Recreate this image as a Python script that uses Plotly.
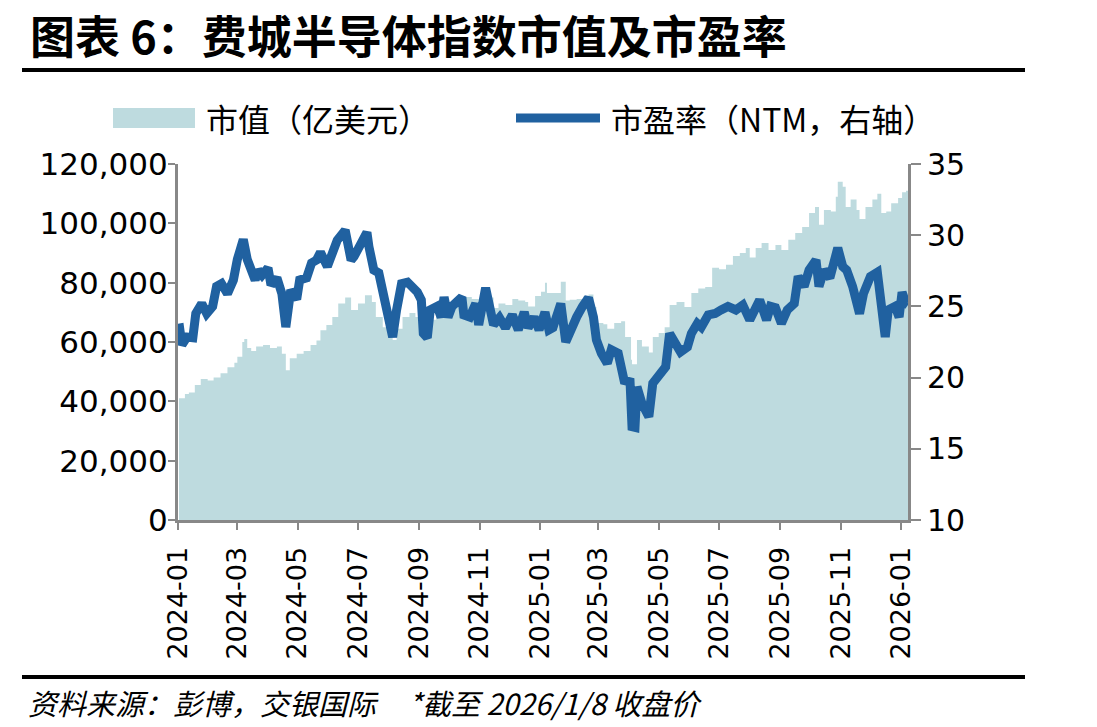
import plotly.graph_objects as go

# ---------------- data ----------------
mc_dates = [
    "2024-01-02", "2024-01-08", "2024-01-12", "2024-01-18", "2024-01-24", "2024-01-31",
    "2024-02-06", "2024-02-13", "2024-02-20", "2024-02-27", "2024-03-01", "2024-03-06",
    "2024-03-08", "2024-03-11", "2024-03-15", "2024-03-20", "2024-03-27", "2024-04-03",
    "2024-04-10", "2024-04-15", "2024-04-19", "2024-04-23", "2024-04-30", "2024-05-07",
    "2024-05-14", "2024-05-20", "2024-05-24", "2024-05-30", "2024-06-05", "2024-06-11",
    "2024-06-18", "2024-06-24", "2024-07-01", "2024-07-08", "2024-07-15", "2024-07-19",
    "2024-07-26", "2024-08-01", "2024-08-05", "2024-08-09", "2024-08-15", "2024-08-22",
    "2024-08-28", "2024-09-04", "2024-09-06", "2024-09-12", "2024-09-18", "2024-09-26",
    "2024-10-03", "2024-10-10", "2024-10-16", "2024-10-24", "2024-10-31", "2024-11-06",
    "2024-11-11", "2024-11-15", "2024-11-20", "2024-11-27", "2024-12-04", "2024-12-10",
    "2024-12-17", "2024-12-20", "2024-12-27", "2025-01-02", "2025-01-06", "2025-01-08",
    "2025-01-15", "2025-01-22", "2025-01-27", "2025-01-31", "2025-02-07", "2025-02-14",
    "2025-02-19", "2025-02-24", "2025-02-27", "2025-03-06", "2025-03-10", "2025-03-17",
    "2025-03-24", "2025-03-28", "2025-04-03", "2025-04-04", "2025-04-09", "2025-04-14",
    "2025-04-21", "2025-04-25", "2025-05-01", "2025-05-07", "2025-05-12", "2025-05-19",
    "2025-05-27", "2025-06-03", "2025-06-10", "2025-06-17", "2025-06-24", "2025-07-01",
    "2025-07-08", "2025-07-15", "2025-07-22", "2025-07-28", "2025-08-01", "2025-08-07",
    "2025-08-13", "2025-08-20", "2025-08-27", "2025-09-02", "2025-09-09", "2025-09-16",
    "2025-09-23", "2025-09-30", "2025-10-06", "2025-10-10", "2025-10-15", "2025-10-22",
    "2025-10-27", "2025-10-29", "2025-11-03", "2025-11-06", "2025-11-11", "2025-11-17",
    "2025-11-20", "2025-11-26", "2025-12-03", "2025-12-08", "2025-12-12", "2025-12-17",
    "2025-12-22", "2025-12-29", "2026-01-02", "2026-01-06", "2026-01-08",
]
mc_values = [
    41000, 42500, 43000, 45500, 47500, 47000,
    48000, 49500, 51500, 53000, 55000, 60000,
    61000, 58000, 57000, 58500, 59000, 58000,
    58500, 56000, 50500, 54500, 56000, 57000,
    59000, 60500, 64000, 65700, 68400, 73000,
    75000, 70800, 73000, 75800, 73500, 68400,
    65000, 63000, 60700, 64500, 68400, 69800,
    68400, 66400, 64000, 67500, 70000, 72500,
    72000, 74000, 75200, 74500, 71500, 76000,
    75000, 71500, 73000, 72500, 74500, 74000,
    73500, 72000, 75500, 76900, 80000, 76500,
    76500, 80300, 74000, 74200, 74500, 75500,
    76000, 71800, 66400, 66000, 64500, 66400,
    67000, 61700, 54000, 52500, 60700, 58500,
    56500, 61700, 63000, 65000, 72500, 73500,
    71800, 76500, 78000, 78500, 85000, 84500,
    86000, 89000, 90000, 91700, 88500, 91700,
    93400, 91000, 92700, 91000, 94500, 96700,
    98800, 103500, 105500, 99500, 104500, 104000,
    109000, 114000, 112300, 105500, 108000, 104500,
    101500, 105500, 108000, 110000, 103500, 104000,
    106800, 108500, 110500, 111000, 111500,
]

pe_dates = [
    "2024-01-02", "2024-01-05", "2024-01-10", "2024-01-16", "2024-01-19", "2024-01-25",
    "2024-01-30", "2024-02-05", "2024-02-09", "2024-02-14", "2024-02-20", "2024-02-26",
    "2024-03-01", "2024-03-07", "2024-03-11", "2024-03-15", "2024-03-19", "2024-03-22",
    "2024-03-26", "2024-04-01", "2024-04-04", "2024-04-10", "2024-04-15", "2024-04-19",
    "2024-04-24", "2024-04-30", "2024-05-03", "2024-05-10", "2024-05-15", "2024-05-20",
    "2024-05-24", "2024-05-31", "2024-06-05", "2024-06-10", "2024-06-18", "2024-06-24",
    "2024-06-27", "2024-07-02", "2024-07-10", "2024-07-12", "2024-07-17", "2024-07-22",
    "2024-07-26", "2024-08-01", "2024-08-05", "2024-08-09", "2024-08-14", "2024-08-20",
    "2024-08-26", "2024-08-30", "2024-09-03", "2024-09-05", "2024-09-09", "2024-09-12",
    "2024-09-19", "2024-09-23", "2024-09-26", "2024-09-30", "2024-10-04", "2024-10-14",
    "2024-10-16", "2024-10-22", "2024-10-28", "2024-10-31", "2024-11-07", "2024-11-12",
    "2024-11-15", "2024-11-21", "2024-11-27", "2024-12-04", "2024-12-10", "2024-12-16",
    "2024-12-20", "2024-12-26", "2024-12-31", "2025-01-06", "2025-01-10", "2025-01-14",
    "2025-01-22", "2025-01-27", "2025-01-31", "2025-02-04", "2025-02-07", "2025-02-13",
    "2025-02-19", "2025-02-24", "2025-02-27", "2025-03-04", "2025-03-10", "2025-03-14",
    "2025-03-21", "2025-03-27", "2025-04-02", "2025-04-04", "2025-04-07", "2025-04-09",
    "2025-04-14", "2025-04-21", "2025-04-25", "2025-04-30", "2025-05-02", "2025-05-08",
    "2025-05-12", "2025-05-16", "2025-05-23", "2025-05-30", "2025-06-03", "2025-06-09",
    "2025-06-13", "2025-06-20", "2025-06-27", "2025-07-03", "2025-07-10", "2025-07-18",
    "2025-07-25", "2025-08-01", "2025-08-05", "2025-08-11", "2025-08-18", "2025-08-22",
    "2025-08-27", "2025-09-02", "2025-09-08", "2025-09-15", "2025-09-19", "2025-09-25",
    "2025-09-30", "2025-10-07", "2025-10-10", "2025-10-15", "2025-10-21", "2025-10-29",
    "2025-11-03", "2025-11-07", "2025-11-13", "2025-11-20", "2025-11-24", "2025-12-01",
    "2025-12-08", "2025-12-12", "2025-12-16", "2025-12-19", "2025-12-26", "2025-12-30",
    "2026-01-02", "2026-01-06", "2026-01-08",
]
pe_values = [
    23.8, 22.3, 22.85, 22.8, 24.5, 25.2,
    24.5, 25.0, 26.4, 26.6, 25.9, 26.85,
    28.3, 29.7, 28.3, 27.3, 26.85, 27.55,
    27.2, 27.7, 26.5, 27.0, 25.9, 23.55,
    26.15, 25.5, 26.85, 27.0, 28.05, 28.25,
    28.8, 27.8, 28.75, 29.65, 30.35, 28.25,
    28.5, 29.3, 30.2, 29.2, 27.55, 27.35,
    26.15, 24.5, 22.85, 24.75, 26.6, 26.7,
    26.3, 26.0, 25.45, 23.1, 22.8, 24.75,
    25.0, 24.25, 25.65, 24.25, 25.0, 25.65,
    24.4, 24.25, 25.2, 23.7, 26.3, 25.0,
    23.7, 24.2, 23.5, 24.4, 23.35, 24.6,
    23.5, 24.25, 23.35, 24.6, 23.35, 23.5,
    25.2, 22.5, 23.1, 24.05, 24.25, 25.0,
    25.6, 24.25, 22.65, 21.7, 21.0, 21.95,
    21.7, 19.8, 19.7, 16.55, 16.5, 19.35,
    18.2, 17.25, 19.6, 20.05, 20.3, 20.75,
    23.1, 22.65, 21.8, 22.15, 23.1, 23.8,
    23.55, 24.4, 24.5, 24.75, 25.0, 24.75,
    25.1, 24.05, 24.5, 25.45, 24.05, 25.0,
    24.9, 23.8, 24.75, 25.2, 27.1, 26.4,
    27.55, 28.25, 26.4, 27.55, 27.0, 29.1,
    27.8, 27.55, 26.4, 24.5, 25.9, 27.1,
    27.4, 25.45, 22.85, 24.75, 25.0, 24.25,
    26.0, 25.2, 25.1,
]

tick_dates = ["2024-01-01", "2024-03-01", "2024-05-01", "2024-07-01", "2024-09-01",
              "2024-11-01", "2025-01-01", "2025-03-01", "2025-05-01", "2025-07-01",
              "2025-09-01", "2025-11-01", "2026-01-01"]
tick_labels = ["2024-01", "2024-03", "2024-05", "2024-07", "2024-09", "2024-11",
               "2025-01", "2025-03", "2025-05", "2025-07", "2025-09", "2025-11", "2026-01"]

title_text = "图表 6：费城半导体指数市值及市盈率"
legend_mc = "市值（亿美元）"
legend_pe = "市盈率（NTM，右轴）"
source_text = "资料来源：彭博，交银国际     *截至 2026/1/8 收盘价"

# ---------------- styles ----------------
W, H = 1097, 727
L, R, T, B = 178, 908, 164, 520
AREA = "#BEDBDF"
LINE = "#2061A0"
AXIS = "#888888"
CJK = "Noto Sans CJK SC"
NUM = "DejaVu Sans"


def px(x):
    return (x - L) / (R - L)


def py(y):
    return (B - y) / (B - T)


fig = go.Figure()
fig.add_trace(go.Scatter(
    x=mc_dates, y=mc_values, mode="lines", fill="tozeroy",
    line=dict(width=0, shape="hv", color=AREA), fillcolor=AREA,
    yaxis="y", showlegend=False, hoverinfo="skip"))
fig.add_trace(go.Scatter(
    x=pe_dates, y=pe_values, mode="lines",
    line=dict(width=9, color=LINE),
    yaxis="y2", showlegend=False))

fig.update_layout(
    width=W, height=H,
    margin=dict(l=L, r=W - R, t=T, b=H - B, pad=0),
    paper_bgcolor="white", plot_bgcolor="white",
    xaxis=dict(
        type="date", range=["2024-01-01", "2026-01-08"],
        tickmode="array", tickvals=tick_dates, ticktext=tick_labels,
        tickangle=-90, ticks="outside", ticklen=7, tickwidth=2, tickcolor=AXIS,
        showline=True, linecolor=AXIS, linewidth=3, showgrid=False, zeroline=False,
        ticklabelstandoff=6,
        tickfont=dict(family=NUM, size=27, color="black")),
    yaxis=dict(
        range=[0, 120000], dtick=20000, tickformat=",",
        ticks="outside", ticklen=7, tickwidth=2, tickcolor=AXIS,
        showline=True, linecolor=AXIS, linewidth=3, showgrid=False, zeroline=False,
        ticklabelstandoff=-6,
        tickfont=dict(family=NUM, size=31, color="black")),
    yaxis2=dict(
        overlaying="y", side="right", range=[10, 35], dtick=5,
        ticks="outside", ticklen=10, tickwidth=2, tickcolor=AXIS,
        showline=True, linecolor=AXIS, linewidth=3, showgrid=False, zeroline=False,
        ticklabelstandoff=0,
        tickfont=dict(family=NUM, size=30, color="black")),
)

shapes = [
    dict(type="line", xref="paper", yref="paper", x0=px(22), x1=px(1025), y0=py(70), y1=py(70),
         line=dict(color="black", width=4)),
    dict(type="line", xref="paper", yref="paper", x0=px(22), x1=px(1025), y0=py(677), y1=py(677),
         line=dict(color="black", width=4)),
    dict(type="rect", xref="paper", yref="paper", x0=px(113), x1=px(195), y0=py(128), y1=py(108),
         fillcolor=AREA, line=dict(width=0)),
    dict(type="line", xref="paper", yref="paper", x0=px(516), x1=px(600), y0=py(118), y1=py(118),
         line=dict(color=LINE, width=9)),
]
fig.update_layout(shapes=shapes)

annotations = [
    dict(text=f"<b>{title_text}</b>", xref="paper", yref="paper", x=px(28), y=py(34),
         xanchor="left", yanchor="middle", showarrow=False,
         font=dict(family=CJK, size=45, color="black")),
    dict(text=legend_mc, xref="paper", yref="paper", x=px(204), y=py(118),
         xanchor="left", yanchor="middle", showarrow=False,
         font=dict(family=CJK, size=32, color="black")),
    dict(text=legend_pe, xref="paper", yref="paper", x=px(609), y=py(118),
         xanchor="left", yanchor="middle", showarrow=False,
         font=dict(family=CJK, size=32, color="black")),
    dict(text=source_text, xref="paper", yref="paper", x=px(26), y=py(702),
         xanchor="left", yanchor="middle", showarrow=False,
         font=dict(family=CJK, size=29, color="black", style="italic")),
]
fig.update_layout(annotations=annotations)

fig.write_html("out.html")
